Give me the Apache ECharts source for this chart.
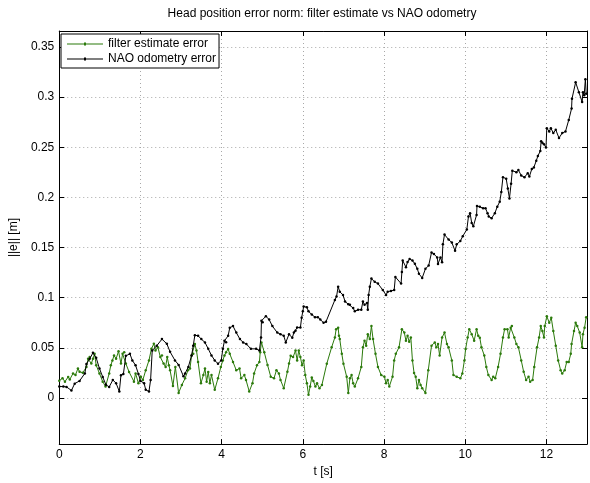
<!DOCTYPE html>
<html>
<head>
<meta charset="utf-8">
<script src="https://cdn.jsdelivr.net/npm/echarts@6/dist/echarts.min.js"></script>
<style>
  html, body { margin: 0; padding: 0; background: #fff; }
  #main { width: 590px; height: 483px; }
</style>
</head>
<body>
<div id="main"></div>
<script>
// values
const chartTitle = 'Head position error norm: filter estimate vs NAO odometry';
const seriesNames = ['filter estimate error', 'NAO odometry error'];
const xTicks = [0, 2, 4, 6, 8, 10, 12];
const yTicks = [0, 0.05, 0.1, 0.15, 0.2, 0.25, 0.3, 0.35];

const filterT = [
  0.00, 0.08, 0.14, 0.22, 0.26, 0.34, 0.40, 0.46, 0.50, 0.58,
  0.67, 0.71, 0.75, 0.79, 0.83, 0.87, 0.91, 0.99, 1.07, 1.14,
  1.23, 1.27, 1.31, 1.35, 1.40, 1.46, 1.52, 1.56, 1.60, 1.64,
  1.72, 1.84, 1.88, 1.95, 2.01, 2.06, 2.13, 2.21, 2.27, 2.33,
  2.37, 2.43, 2.49, 2.53, 2.57, 2.62, 2.66, 2.70, 2.73, 2.80,
  2.86, 2.94, 3.02, 3.10, 3.17, 3.22, 3.26, 3.30, 3.34, 3.38,
  3.42, 3.49, 3.55, 3.59, 3.63, 3.67, 3.71, 3.75, 3.83, 3.91,
  3.98, 4.03, 4.07, 4.11, 4.16, 4.20, 4.28, 4.36, 4.44, 4.48,
  4.56, 4.60, 4.68, 4.76, 4.80, 4.87, 4.93, 4.95, 4.98, 5.05,
  5.13, 5.21, 5.29, 5.35, 5.41, 5.45, 5.53, 5.62, 5.66, 5.70,
  5.76, 5.82, 5.86, 5.90, 5.94, 5.98, 6.02, 6.06, 6.10, 6.14,
  6.18, 6.22, 6.26, 6.31, 6.35, 6.41, 6.47, 6.59, 6.71, 6.79,
  6.82, 6.87, 6.89, 6.91, 6.96, 7.00, 7.08, 7.12, 7.16, 7.20,
  7.24, 7.28, 7.36, 7.44, 7.48, 7.52, 7.56, 7.60, 7.65, 7.69,
  7.73, 7.79, 7.85, 7.93, 8.01, 8.05, 8.09, 8.13, 8.21, 8.25,
  8.29, 8.37, 8.44, 8.50, 8.54, 8.58, 8.62, 8.66, 8.70, 8.74,
  8.78, 8.82, 8.86, 8.90, 8.94, 9.02, 9.09, 9.17, 9.25, 9.29,
  9.33, 9.37, 9.43, 9.49, 9.55, 9.59, 9.67, 9.71, 9.79, 9.88,
  9.93, 9.98, 10.01, 10.06, 10.10, 10.16, 10.22, 10.28, 10.32, 10.36,
  10.40, 10.47, 10.52, 10.57, 10.65, 10.69, 10.74, 10.81, 10.87, 10.93,
  10.97, 11.04, 11.07, 11.12, 11.15, 11.21, 11.26, 11.31, 11.38, 11.44,
  11.50, 11.56, 11.60, 11.66, 11.70, 11.77, 11.82, 11.86, 11.90, 11.94,
  11.96, 12.01, 12.07, 12.12, 12.17, 12.23, 12.29, 12.35, 12.39, 12.45,
  12.50, 12.55, 12.60, 12.62, 12.68, 12.72, 12.76, 12.82, 12.88, 12.90,
  12.94, 12.98
];
const filterErr = [
  0.0173, 0.0196, 0.0163, 0.0210, 0.0185, 0.0245, 0.0230, 0.0294, 0.0262, 0.0251,
  0.0310, 0.0391, 0.0408, 0.0343, 0.0391, 0.0440, 0.0326, 0.0245, 0.0163, 0.0114,
  0.0245, 0.0326, 0.0375, 0.0424, 0.0391, 0.0466, 0.0343, 0.0440, 0.0457, 0.0343,
  0.0260, 0.0163, 0.0245, 0.0147, 0.0212, 0.0180, 0.0277, 0.0375, 0.0490, 0.0540,
  0.0473, 0.0506, 0.0408, 0.0424, 0.0343, 0.0310, 0.0408, 0.0326, 0.0277, 0.0120,
  0.0310, 0.0050, 0.0130, 0.0196, 0.0277, 0.0294, 0.0424, 0.0440, 0.0538, 0.0473,
  0.0359, 0.0147, 0.0228, 0.0294, 0.0163, 0.0260, 0.0147, 0.0228, 0.0081, 0.0196,
  0.0310, 0.0375, 0.0424, 0.0457, 0.0489, 0.0440, 0.0359, 0.0277, 0.0294, 0.0196,
  0.0228, 0.0180, 0.0065, 0.0147, 0.0245, 0.0326, 0.0359, 0.0457, 0.0554, 0.0457,
  0.0330, 0.0212, 0.0196, 0.0277, 0.0245, 0.0180, 0.0098, 0.0261, 0.0343, 0.0420,
  0.0408, 0.0473, 0.0375, 0.0473, 0.0408, 0.0326, 0.0375, 0.0228, 0.0147, 0.0033,
  0.0114, 0.0205, 0.0170, 0.0114, 0.0147, 0.0098, 0.0130, 0.0342, 0.0506, 0.0604,
  0.0685, 0.0701, 0.0620, 0.0587, 0.0440, 0.0342, 0.0212, 0.0050, 0.0196, 0.0228,
  0.0147, 0.0114, 0.0196, 0.0310, 0.0506, 0.0571, 0.0522, 0.0636, 0.0587, 0.0717,
  0.0587, 0.0440, 0.0310, 0.0228, 0.0212, 0.0147, 0.0180, 0.0114, 0.0212, 0.0375,
  0.0440, 0.0506, 0.0685, 0.0652, 0.0571, 0.0620, 0.0560, 0.0604, 0.0375, 0.0250,
  0.0212, 0.0098, 0.0180, 0.0130, 0.0098, 0.0050, 0.0277, 0.0522, 0.0554, 0.0505,
  0.0538, 0.0424, 0.0603, 0.0652, 0.0538, 0.0505, 0.0375, 0.0228, 0.0212, 0.0196,
  0.0245, 0.0375, 0.0489, 0.0603, 0.0685, 0.0636, 0.0571, 0.0685, 0.0620, 0.0600,
  0.0505, 0.0424, 0.0310, 0.0228, 0.0180, 0.0212, 0.0196, 0.0310, 0.0440, 0.0603,
  0.0685, 0.0685, 0.0603, 0.0701, 0.0717, 0.0603, 0.0538, 0.0505, 0.0375, 0.0261,
  0.0180, 0.0212, 0.0163, 0.0180, 0.0310, 0.0505, 0.0603, 0.0717, 0.0668, 0.0603,
  0.0717, 0.0815, 0.0750, 0.0799, 0.0668, 0.0522, 0.0375, 0.0277, 0.0245, 0.0277,
  0.0359, 0.0359, 0.0440, 0.0538, 0.0668, 0.0750, 0.0717, 0.0652, 0.0505, 0.0636,
  0.0701, 0.0806
];

const odomT = [
  0.00, 0.10, 0.18, 0.30, 0.38, 0.50, 0.63, 0.67, 0.75, 0.83,
  0.91, 0.99, 1.07, 1.15, 1.23, 1.32, 1.40, 1.48, 1.52, 1.58,
  1.64, 1.74, 1.80, 1.88, 1.95, 2.00, 2.09, 2.13, 2.21, 2.25,
  2.29, 2.40, 2.53, 2.65, 2.73, 2.85, 2.94, 3.06, 3.10, 3.18,
  3.26, 3.30, 3.34, 3.42, 3.50, 3.59, 3.67, 3.75, 3.83, 3.91,
  3.99, 4.03, 4.07, 4.11, 4.16, 4.20, 4.28, 4.36, 4.45, 4.53,
  4.61, 4.72, 4.85, 4.93, 4.97, 4.98, 5.01, 5.09, 5.17, 5.25,
  5.37, 5.45, 5.53, 5.58, 5.66, 5.74, 5.78, 5.82, 5.86, 5.94,
  5.97, 6.00, 6.02, 6.10, 6.14, 6.22, 6.30, 6.37, 6.43, 6.51,
  6.57, 6.79, 6.83, 6.87, 6.91, 6.99, 7.04, 7.12, 7.16, 7.24,
  7.28, 7.36, 7.44, 7.48, 7.52, 7.58, 7.60, 7.62, 7.65, 7.69,
  7.77, 7.85, 7.97, 8.05, 8.09, 8.17, 8.25, 8.28, 8.42, 8.44,
  8.46, 8.54, 8.58, 8.63, 8.70, 8.76, 8.82, 8.86, 8.94, 9.02,
  9.10, 9.17, 9.23, 9.31, 9.33, 9.39, 9.43, 9.45, 9.49, 9.59,
  9.67, 9.75, 9.79, 9.88, 9.94, 10.04, 10.08, 10.12, 10.16, 10.20,
  10.28, 10.29, 10.36, 10.44, 10.50, 10.55, 10.58, 10.65, 10.73, 10.79,
  10.85, 10.89, 10.93, 11.01, 11.05, 11.09, 11.13, 11.16, 11.26, 11.31,
  11.38, 11.46, 11.54, 11.58, 11.64, 11.69, 11.75, 11.79, 11.85, 11.87,
  11.90, 11.94, 11.99, 12.01, 12.07, 12.11, 12.17, 12.23, 12.31, 12.39,
  12.47, 12.55, 12.62, 12.63, 12.72, 12.80, 12.88, 12.90, 12.93, 12.96,
  12.98
];
const odomErr = [
  0.0114, 0.0114, 0.0110, 0.0075, 0.0143, 0.0170, 0.0245, 0.0340, 0.0390, 0.0450,
  0.0400, 0.0294, 0.0210, 0.0132, 0.0110, 0.0180, 0.0147, 0.0065, 0.0227, 0.0240,
  0.0420, 0.0440, 0.0375, 0.0326, 0.0240, 0.0170, 0.0147, 0.0082, 0.0065, 0.0180,
  0.0473, 0.0520, 0.0587, 0.0540, 0.0460, 0.0375, 0.0330, 0.0216, 0.0245, 0.0310,
  0.0424, 0.0520, 0.0626, 0.0620, 0.0587, 0.0554, 0.0490, 0.0424, 0.0375, 0.0342,
  0.0375, 0.0490, 0.0570, 0.0555, 0.0620, 0.0700, 0.0717, 0.0652, 0.0587, 0.0554,
  0.0538, 0.0490, 0.0490, 0.0473, 0.0603, 0.0770, 0.0755, 0.0815, 0.0782, 0.0717,
  0.0652, 0.0636, 0.0620, 0.0554, 0.0636, 0.0600, 0.0653, 0.0670, 0.0702, 0.0702,
  0.0800, 0.0864, 0.0913, 0.0904, 0.0864, 0.0832, 0.0806, 0.0806, 0.0783, 0.0750,
  0.0760, 0.0978, 0.1011, 0.1109, 0.1060, 0.1027, 0.0962, 0.0936, 0.0930, 0.0897,
  0.0864, 0.0880, 0.0880, 0.0962, 0.0930, 0.0946, 0.0880, 0.1027, 0.1109, 0.1191,
  0.1158, 0.1141, 0.1076, 0.1027, 0.1060, 0.1067, 0.1076, 0.1207, 0.1141, 0.1256,
  0.1370, 0.1305, 0.1355, 0.1386, 0.1370, 0.1338, 0.1288, 0.1239, 0.1197, 0.1288,
  0.1321, 0.1451, 0.1435, 0.1402, 0.1337, 0.1402, 0.1353, 0.1532, 0.1630, 0.1580,
  0.1550, 0.1468, 0.1532, 0.1565, 0.1614, 0.1680, 0.1810, 0.1843, 0.1745, 0.1712,
  0.1826, 0.1914, 0.1908, 0.1891, 0.1891, 0.1843, 0.1810, 0.1793, 0.1843, 0.1908,
  0.1957, 0.2055, 0.2202, 0.2186, 0.2088, 0.1990, 0.2137, 0.2267, 0.2251, 0.2274,
  0.2218, 0.2202, 0.2241, 0.2208, 0.2283, 0.2299, 0.2365, 0.2414, 0.2463, 0.2561,
  0.2545, 0.2531, 0.2498, 0.2691, 0.2658, 0.2691, 0.2642, 0.2675, 0.2593, 0.2642,
  0.2658, 0.2772, 0.2886, 0.2984, 0.3148, 0.3050, 0.2953, 0.3050, 0.3018, 0.3180,
  0.3034
];

const FONT = '"Liberation Sans", Arial, Helvetica, sans-serif';
const GREEN = '#2b7a0b';
// legend sample: thin line with a small dot in the middle
const legendIcon = 'path://M0,1L36,1L36,2L0,2Z M17,0L19,0L19,3L17,3Z';

const toPairs = (ts, vs) => ts.map((t, i) => [t, vs[i]]);
const onTick = (v, list) => list.some(t => Math.abs(t - v) < 1e-9);

const chart = echarts.init(document.getElementById('main'));

const gridLine = { show: true, lineStyle: { color: '#a8a8a8', width: 1, type: [1, 3] } };
const frameLine = { show: true, onZero: false, lineStyle: { color: '#000', width: 1 } };
const tick = { show: true, inside: true, length: 5, lineStyle: { color: '#000', width: 1 } };

const option = {
  animation: false,
  backgroundColor: '#fff',
  textStyle: { fontFamily: FONT },
  title: {
    text: chartTitle,
    left: 322,
    top: 8,
    padding: 0,
    textAlign: 'center',
    textStyle: { fontFamily: FONT, fontSize: 12, fontWeight: 'normal', color: '#000' }
  },
  legend: {
    orient: 'vertical',
    left: 61,
    top: 34,
    padding: [4, 3, 3, 6],
    itemGap: 3,
    itemWidth: 36,
    itemHeight: 12,
    borderColor: '#000',
    borderWidth: 1,
    backgroundColor: '#fff',
    textStyle: { fontFamily: FONT, fontSize: 12, color: '#000' },
    data: [
      { name: seriesNames[0], icon: legendIcon },
      { name: seriesNames[1], icon: legendIcon }
    ]
  },
  grid: { left: 55, right: 1, top: 31, bottom: 31, containLabel: false },
  xAxis: [
    {
      type: 'value', position: 'bottom', min: 0, max: 13, interval: 2,
      name: 't [s]', nameLocation: 'middle', nameGap: 18,
      nameTextStyle: { fontFamily: FONT, fontSize: 12, color: '#000' },
      axisLine: frameLine, axisTick: tick,
      axisLabel: {
        margin: 5, fontFamily: FONT, fontSize: 12, color: '#000',
        formatter: v => onTick(v, xTicks) ? String(v) : ''
      },
      splitLine: gridLine
    },
    {
      type: 'value', position: 'top', min: 0, max: 13, interval: 2,
      axisLine: frameLine, axisTick: tick,
      axisLabel: { show: false }, splitLine: { show: false }
    }
  ],
  yAxis: [
    {
      type: 'value', position: 'left', min: -0.046, max: 0.366,
      minInterval: 0.05, maxInterval: 0.05,
      name: '||e|| [m]', nameLocation: 'middle', nameGap: 34,
      nameTextStyle: { fontFamily: FONT, fontSize: 12, color: '#000' },
      axisLine: frameLine, axisTick: tick,
      axisLabel: {
        margin: 5, fontFamily: FONT, fontSize: 12, color: '#000',
        formatter: v => onTick(v, yTicks) ? String(+v.toFixed(2)) : ''
      },
      splitLine: gridLine
    },
    {
      type: 'value', position: 'right', min: -0.046, max: 0.366,
      minInterval: 0.05, maxInterval: 0.05,
      axisLine: frameLine, axisTick: tick,
      axisLabel: { show: false }, splitLine: { show: false }
    }
  ],
  series: [
    {
      name: seriesNames[0],
      type: 'line',
      data: toPairs(filterT, filterErr),
      symbol: 'circle', symbolSize: 2.5,
      showSymbol: true, showAllSymbol: true,
      lineStyle: { color: GREEN, width: 1 },
      itemStyle: { color: GREEN },
      emphasis: { disabled: true },
      z: 2
    },
    {
      name: seriesNames[1],
      type: 'line',
      data: toPairs(odomT, odomErr),
      symbol: 'circle', symbolSize: 2.5,
      showSymbol: true, showAllSymbol: true,
      lineStyle: { color: '#000', width: 1 },
      itemStyle: { color: '#000' },
      emphasis: { disabled: true },
      z: 3
    }
  ]
};

chart.setOption(option);
</script>
</body>
</html>
